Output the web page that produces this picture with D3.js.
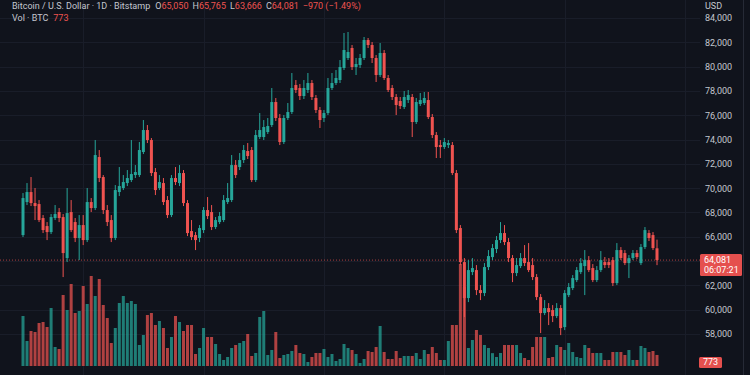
<!DOCTYPE html>
<html>
<head>
<meta charset="utf-8">
<script src="https://cdn.jsdelivr.net/npm/d3@7"></script>
<style>
body { margin: 0; background: #10131c; overflow: hidden; }
svg { display: block; font-family: Roboto, "Noto Sans", sans-serif; }
</style>
</head>
<body>
<svg></svg>
<script>
// BTC/USD daily candles

const opens = [66140,68856,69679,68774,68692,67540,66881,66387,67540,68033,
  67622,64248,68033,67210,65894,66963,65729,68856,68363,72560,
  70914,68198,67375,65894,69679,70009,70420,70667,71078,71078,
  72971,74782,73959,71325,70009,70420,69021,67786,70832,70420,
  71243,68774,66470,66140,65894,66552,68198,68033,66799,67210,
  67375,68856,69021,71901,71737,72313,73054,73136,70667,74206,
  74206,74617,75193,77086,75770,73794,75770,76263,78485,78239,
  77580,78074,78650,77416,76428,75770,76181,78239,78650,78897,
  79885,80708,81531,79967,80131,80708,82189,81777,80708,79308,
  81119,79062,78239,77498,77169,76675,77251,77498,75440,76922,
  77004,77251,75852,74370,73547,73383,73547,73547,71243,66717,
  63918,60956,63095,63260,61614,61367,63507,64330,64988,65729,
  66305,65564,64248,63013,63589,64248,63918,63671,62684,61038,
  59721,60133,59968,59474,60133,58569,61202,61779,62437,63095,
  63589,64083,63425,62437,63260,63918,63918,64083,62190,64906,
  64659,63836,64248,64659,63836,65153,66305,66140,65050]

const highs = [69597,70420,70914,70009,69021,67786,67210,67869,68609,68363,
  67869,70009,69021,67540,67786,67786,70009,69186,73959,73136,
  71078,68609,67786,70255,71737,71078,71490,73959,71901,73794,
  75605,75193,74124,71655,71078,70832,69350,71078,71737,71901,
  71490,69021,67375,66387,66963,68445,69268,68609,67622,68033,
  69432,70420,72724,72313,72889,73547,73712,73383,74782,76181,
  75605,75770,78239,77416,76099,76016,77004,79473,78897,78568,
  78897,79473,78897,77662,76675,76428,79062,79473,79720,80543,
  82765,82847,81777,80708,81037,82436,82354,82024,80954,81942,
  81366,79308,78485,77745,77498,77992,78074,77745,77416,77827,
  77909,77909,76099,74617,73959,74124,73959,73794,71490,66963,
  64248,64083,64248,63671,62025,63836,64906,65400,66058,67210,
  66963,65894,64494,64248,64659,65317,65482,64248,62931,61285,
  60791,60544,60379,60544,60379,61614,62190,62848,63507,64248,
  64906,64412,63754,63589,64824,64330,64248,64330,65482,65153,
  64906,64494,64906,64906,65400,66799,66552,66387,65765]

const lows = [65976,68609,68527,67375,67210,66305,65729,66223,67375,67210,
  62684,63918,66387,65564,64083,65317,65564,68033,68198,70502,
  67869,66881,65564,65729,69350,69844,70173,70502,70832,70914,
  72807,73712,70996,69432,69844,68609,67540,67622,70255,70173,
  68527,66058,65729,64906,65564,66305,67457,66552,66634,67046,
  67210,68692,68856,70832,71490,72066,72395,70502,70502,74041,
  73959,74453,75029,75523,73547,73630,75605,76099,77827,77251,
  77333,77827,77251,76181,74947,75440,76016,78074,78485,78650,
  79720,80543,79720,79308,79885,80543,81531,80296,78732,79144,
  78897,77909,77251,76016,76510,76510,77004,74206,75276,76757,
  76839,75687,74124,72478,72478,73218,73301,71078,66305,63671,
  59392,60626,62848,61202,60791,61120,63260,64083,64659,65482,
  65317,63918,62272,62766,63425,63589,63095,62437,60791,58075,
  59556,58733,58980,59310,57910,58322,61038,61614,62272,62931,
  61202,63095,62272,62272,63095,63425,63425,61943,62025,64083,
  63671,62602,64083,64165,63671,64988,65647,64906,63666]

const closes = [69186,69679,68774,68527,67375,66552,66387,67622,67869,67540,
  64659,67951,66552,65894,66963,65729,68856,68363,72724,70832,
  68198,67210,65894,69844,70173,70502,70832,71161,71325,73136,
  74782,73959,71243,69844,70502,68856,67786,70832,70502,71243,
  68774,66305,65976,65729,66717,68198,67704,66799,67375,67704,
  69021,69186,71901,71078,72313,73136,72642,70667,74370,74782,
  75029,75111,77086,75770,73794,75770,76263,78239,78074,77580,
  78239,78650,77498,76428,75605,76181,78239,78650,79062,79967,
  81366,81201,79967,80214,80708,82189,81777,80708,79308,81119,
  79062,78074,77498,76839,76757,77498,77662,75440,77086,77251,
  77416,75852,74370,73383,73383,73794,73712,71243,66552,63918,
  60956,63260,63425,61614,61367,63507,64412,65071,65729,66305,
  65564,64248,63013,63671,64248,63836,63260,62684,61038,59721,
  60133,59803,59474,60133,58487,61367,61861,62602,63260,63836,
  64083,63260,62437,63260,64083,63671,63671,62190,64906,64248,
  63836,64248,64659,64330,65153,66552,65894,65071,64081]

const volumes = [3500,1750,2450,2380,3010,3080,2730,4060,1330,1190,
  4970,3920,5740,3710,3850,5600,4340,6300,4900,6090,
  4270,3360,1610,2660,4410,4900,4410,4550,4340,1470,
  2170,3570,3710,2870,3150,2660,1260,2030,3500,3080,
  2450,2870,2870,840,1260,2660,2030,2030,1540,840,
  420,630,1260,1470,1610,1750,2240,700,910,3430,
  3850,770,1120,2380,560,770,840,1050,1470,910,
  840,280,630,910,910,1190,630,840,350,490,
  1540,1260,1120,840,210,490,1050,980,1330,2800,
  980,490,490,1050,560,700,700,700,910,490,
  1120,840,1330,910,420,420,1750,2870,2870,7140,
  5530,1260,1820,2520,2170,1470,1260,900,630,910,
  1470,1470,1470,1470,910,560,420,1330,2030,2030,
  2030,560,630,1470,1330,1120,1610,980,630,560,
  1470,1260,910,910,910,420,420,980,980,980,
  770,1120,420,420,1400,1260,980,1050,773]

const priceTicks = [58000,60000,62000,66000,68000,70000,72000,74000,76000,78000,80000,82000,84000]
const gridDays = [15,45,75,105,135,165]

const header = {open: "65,050", high: "65,765", low: "63,666", close: "64,081", change: "−970 (−1.49%)"}
const lastVol = "773"
const countdown = "06:07:21"

const green = "#26a69a"
const red = "#ef5350"

const svg = d3.select("svg")
    .attr("width", 750)
    .attr("height", 375)

svg.append("rect").attr("width", 750).attr("height", 375).attr("fill", "#10131c")

const n = closes.length
const x = d3.scaleLinear().domain([0, n - 1]).range([23, 657])
const y = d3.scaleLinear().domain([58000, 84000]).range([334, 18])
const yVol = d3.scaleLinear().domain([0, 7000]).range([366, 266])
const bw = 3

// grid
svg.append("g")
    .selectAll("line")
    .data(priceTicks.concat([64000]))
    .join("line")
    .attr("x1", 0).attr("x2", 700)
    .attr("y1", d => Math.round(y(d)) + 0.5)
    .attr("y2", d => Math.round(y(d)) + 0.5)
    .attr("stroke", "#191d29")

svg.append("g")
    .selectAll("line")
    .data(gridDays)
    .join("line")
    .attr("x1", d => Math.round(x(d)) + 0.5)
    .attr("x2", d => Math.round(x(d)) + 0.5)
    .attr("y1", 0).attr("y2", 375)
    .attr("stroke", "#191d29")

const idx = d3.range(n)
const up = i => closes[i] >= opens[i]

// volume
svg.append("g")
    .selectAll("rect")
    .data(idx)
    .join("rect")
    .attr("x", i => x(i) - bw / 2)
    .attr("width", bw)
    .attr("y", i => yVol(volumes[i]))
    .attr("height", i => yVol(0) - yVol(volumes[i]))
    .attr("fill", i => up(i) ? green : red)
    .attr("opacity", 0.72)

// last price line
const lastY = y(closes[n - 1])
svg.append("line")
    .attr("x1", 0).attr("x2", 700)
    .attr("y1", lastY).attr("y2", lastY)
    .attr("stroke", red)
    .attr("stroke-opacity", 0.7)
    .attr("stroke-dasharray", "1,2")

// candles
const candles = svg.append("g")
    .selectAll("g")
    .data(idx)
    .join("g")

candles.append("line")
    .attr("x1", i => x(i)).attr("x2", i => x(i))
    .attr("y1", i => y(highs[i]))
    .attr("y2", i => y(lows[i]))
    .attr("stroke", i => up(i) ? green : red)
    .attr("stroke-width", 1)

candles.append("rect")
    .attr("x", i => x(i) - bw / 2)
    .attr("width", bw)
    .attr("y", i => y(Math.max(opens[i], closes[i])))
    .attr("height", i => Math.max(1, Math.abs(y(opens[i]) - y(closes[i]))))
    .attr("fill", i => up(i) ? green : red)

// price scale
svg.append("line")
    .attr("x1", 743.5).attr("x2", 743.5)
    .attr("y1", 0).attr("y2", 375)
    .attr("stroke", "#262a36")

const axis = svg.append("g")
    .attr("transform", "translate(703,0)")
    .call(d3.axisRight(y).tickValues(priceTicks).tickFormat(d3.format(",")).tickSize(0).tickPadding(2))

axis.select(".domain").remove()
axis.selectAll("text")
    .attr("fill", "#c4c7cf")
    .attr("font-size", 9)
    .attr("font-family", "Roboto, sans-serif")

svg.append("text")
    .attr("x", 705).attr("y", 9)
    .attr("fill", "#c4c7cf")
    .attr("font-size", 9)
    .text("USD")

// last price tag
svg.append("rect")
    .attr("x", 700).attr("y", lastY - 6)
    .attr("width", 42).attr("height", 22)
    .attr("rx", 1.5)
    .attr("fill", "#e5504e")

svg.append("text")
    .attr("x", 704).attr("y", lastY + 3)
    .attr("fill", "#fff").attr("font-size", 9)
    .text(header.close)

svg.append("text")
    .attr("x", 704).attr("y", lastY + 13)
    .attr("fill", "#fff").attr("font-size", 9)
    .text(countdown)

// volume tag
const vY = yVol(volumes[n - 1])
svg.append("rect")
    .attr("x", 699).attr("y", vY + 2)
    .attr("width", 23).attr("height", 11)
    .attr("rx", 1.5)
    .attr("fill", "#e5504e")

svg.append("text")
    .attr("x", 703).attr("y", vY + 10.5)
    .attr("fill", "#fff").attr("font-size", 9)
    .text(lastVol)

// header legend
const hdr = svg.append("text")
    .attr("x", 12).attr("y", 9)
    .attr("font-size", 9)
    .attr("fill", "#c4c7cf")

hdr.append("tspan").text("Bitcoin / U.S. Dollar · 1D · Bitstamp")

const items = [["O", header.open], ["H", header.high], ["L", header.low], ["C", header.close]]
items.forEach(([k, v], j) => {
    hdr.append("tspan").attr("dx", j === 0 ? 5 : 4).text(k)
    hdr.append("tspan").attr("fill", red).text(v)
})
hdr.append("tspan").attr("dx", 4).attr("fill", red).text(header.change)

const vol = svg.append("text")
    .attr("x", 12).attr("y", 21)
    .attr("font-size", 9)
    .attr("fill", "#c4c7cf")

vol.append("tspan").text("Vol · BTC")
vol.append("tspan").attr("dx", 5).attr("fill", red).text(lastVol)
</script>
</body>
</html>
